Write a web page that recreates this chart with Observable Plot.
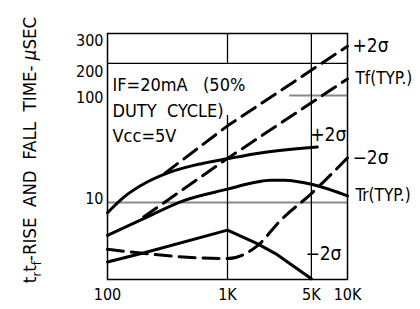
<!DOCTYPE html>
<html><head><meta charset="utf-8">
<script src="https://cdn.jsdelivr.net/npm/d3@7"></script>
<script src="https://cdn.jsdelivr.net/npm/@observablehq/plot@0.6"></script>
<style>
html,body{margin:0;padding:0;background:#fff;}
#chart{width:420px;height:309px;}
</style></head><body><div id="chart"></div>
<script>
// ---- data ----
const xTicks = [100, 1000, 5000, 10000];
const xTickLabels = ["100", "1K", "5K", "10K"];
const yTicks = [10, 100, 200, 300];
const yTickLabels = ["10", "100", "200", "300"];

// Fall time (dashed)
const tfPlus2X = [300, 1000, 10000];
const tfPlus2Y = [18.7, 52, 289];
const tfTypX = [200, 1000, 10000];
const tfTypY = [7.3, 25.8, 143];
const tfMinus2X = [100, 1000, 1770, 2770, 5000, 10000];
const tfMinus2Y = [3.64, 2.98, 3.92, 6.8, 12.1, 26.1];

// Rise time (solid)
const trPlus2X = [100, 137, 214, 315, 560, 1000, 1880, 5600];
const trPlus2Y = [8.0, 11.2, 15.5, 18.8, 22.6, 25.6, 29, 33];
const trTypX = [100, 200, 432, 1000, 1710, 2280, 2985, 5210, 10000];
const trTypY = [4.92, 7.04, 10.4, 13.3, 15.4, 16.1, 16.1, 14.6, 11.5];
const trMinus2X = [100, 214, 1000, 1770, 2510, 5000];
const trMinus2Y = [2.77, 3.43, 5.5, 4.11, 3.32, 1.93];

const seriesLabels = ["+2σ", "Tf(TYP.)", "−2σ", "Tr(TYP.)", "+2σ", "−2σ"];
const noteText = ["IF=20mA   (50%", "DUTY  CYCLE)", "Vcc=5V"];
const yTitle = ["t", "r", "t", "f", "-RISE  AND  FALL  TIME- ", "μ", "SEC"];

// ---- build ----
const pts = (xs, ys) => xs.map((x, i) => ({x, y: ys[i]}));
const last = (xs, ys, label) => ({x: xs[xs.length - 1], y: ys[ys.length - 1], label});
const ticks = (vals, labels) => vals.map((v, i) => ({v, label: labels[i]}));

const FONT = '"Liberation Sans Narrow","DejaVu Sans Condensed","Arial Narrow",sans-serif';
const dash = "16,8";
const lw = 3;

const yMin = 1.9, yMax = 380;
const yt = ticks(yTicks, yTickLabels);
const yLabel = (i, dy) => Plot.text([yt[i]], {frameAnchor: "left", y: "v", text: "label", textAnchor: "end", dx: -4, dy, fontSize: 16, fill: "#000"});

const plot = Plot.plot({
  width: 420, height: 309,
  marginLeft: 107, marginRight: 73, marginTop: 33, marginBottom: 30,
  style: {fontFamily: FONT, fontSize: "16px", color: "#000", background: "#fff", overflow: "visible"},
  x: {type: "log", domain: [100, 10000], axis: null},
  y: {type: "log", domain: [yMin, yMax], axis: null},
  marks: [
    // grid
    Plot.ruleY([10], {stroke: "#888", strokeWidth: 2}),
    Plot.ruleY([100], {x1: 3300, x2: 10000, stroke: "#888", strokeWidth: 2}),
    Plot.ruleY([200], {stroke: "#000", strokeWidth: 1.3}),
    Plot.ruleX([1000], {y1: 200, y2: yMax, stroke: "#000", strokeWidth: 1.3}),
    Plot.ruleX([1000], {y1: yMin, y2: 65, stroke: "#000", strokeWidth: 1.3}),
    Plot.ruleX([5000], {stroke: "#000", strokeWidth: 1.3}),
    Plot.frame({stroke: "#000", strokeWidth: 1.5}),
    // curves
    Plot.line(pts(tfPlus2X, tfPlus2Y), {x: "x", y: "y", stroke: "#000", strokeWidth: lw, strokeDasharray: dash}),
    Plot.line(pts(tfTypX, tfTypY), {x: "x", y: "y", stroke: "#000", strokeWidth: lw, strokeDasharray: dash}),
    Plot.line(pts(tfMinus2X, tfMinus2Y), {x: "x", y: "y", stroke: "#000", strokeWidth: lw, strokeDasharray: dash, curve: "monotone-x"}),
    Plot.line(pts(trPlus2X, trPlus2Y), {x: "x", y: "y", stroke: "#000", strokeWidth: lw, curve: "monotone-x"}),
    Plot.line(pts(trTypX, trTypY), {x: "x", y: "y", stroke: "#000", strokeWidth: lw, curve: "monotone-x"}),
    Plot.line(pts(trMinus2X, trMinus2Y), {x: "x", y: "y", stroke: "#000", strokeWidth: lw}),
    // right labels
    Plot.text([last(tfPlus2X, tfPlus2Y, seriesLabels[0]), last(tfMinus2X, tfMinus2Y, seriesLabels[2])],
      {x: "x", y: "y", text: "label", textAnchor: "start", dx: 5, fontSize: 19, fill: "#000", fontFamily: FONT}),
    Plot.text([last(tfTypX, tfTypY, seriesLabels[1]), last(trTypX, trTypY, seriesLabels[3])],
      {x: "x", y: "y", text: "label", textAnchor: "start", dx: 8, fontSize: 17, fill: "#000", fontFamily: FONT}),
    Plot.text([last(trPlus2X, trPlus2Y, seriesLabels[4])],
      {x: "x", y: "y", text: "label", textAnchor: "start", dx: -7, dy: -12, fontSize: 19, fill: "#000", fontFamily: FONT}),
    Plot.text([last(trMinus2X, trMinus2Y, seriesLabels[5])],
      {x: "x", y: "y", text: "label", textAnchor: "start", dx: -6, dy: -25, fontSize: 19, fill: "#000", fontFamily: FONT}),
    // condition note
    Plot.text([noteText.join("\n")], {frameAnchor: "top-left", dx: 5, dy: 40, lineAnchor: "top", textAnchor: "start", lineHeight: 1.4, fontSize: 18, fill: "#000", fontFamily: FONT}),
    // x tick labels
    Plot.text(ticks(xTicks, xTickLabels), {x: "v", text: "label", frameAnchor: "bottom", dy: 20, fontSize: 16, fill: "#000"}),
    // y tick labels
    yLabel(0, -4), yLabel(1, 2), yLabel(2, 9), yLabel(3, -4)
  ]
});

// y title with subscripts
const t = d3.select(plot).append("text")
  .attr("transform", "translate(36,150) rotate(-90)")
  .attr("text-anchor", "middle")
  .attr("font-family", FONT)
  .attr("font-size", 18.5)
  .attr("fill", "#000");
t.append("tspan").text(yTitle[0]);
t.append("tspan").attr("dy", 5).attr("font-size", 13).text(yTitle[1]);
t.append("tspan").attr("dy", -5).text(yTitle[2]);
t.append("tspan").attr("dy", 5).attr("font-size", 13).text(yTitle[3]);
t.append("tspan").attr("dy", -5).text(yTitle[4]);
t.append("tspan").attr("font-style", "italic").text(yTitle[5]);
t.append("tspan").text(yTitle[6]);

document.getElementById("chart").appendChild(plot);
</script>
</body></html>
